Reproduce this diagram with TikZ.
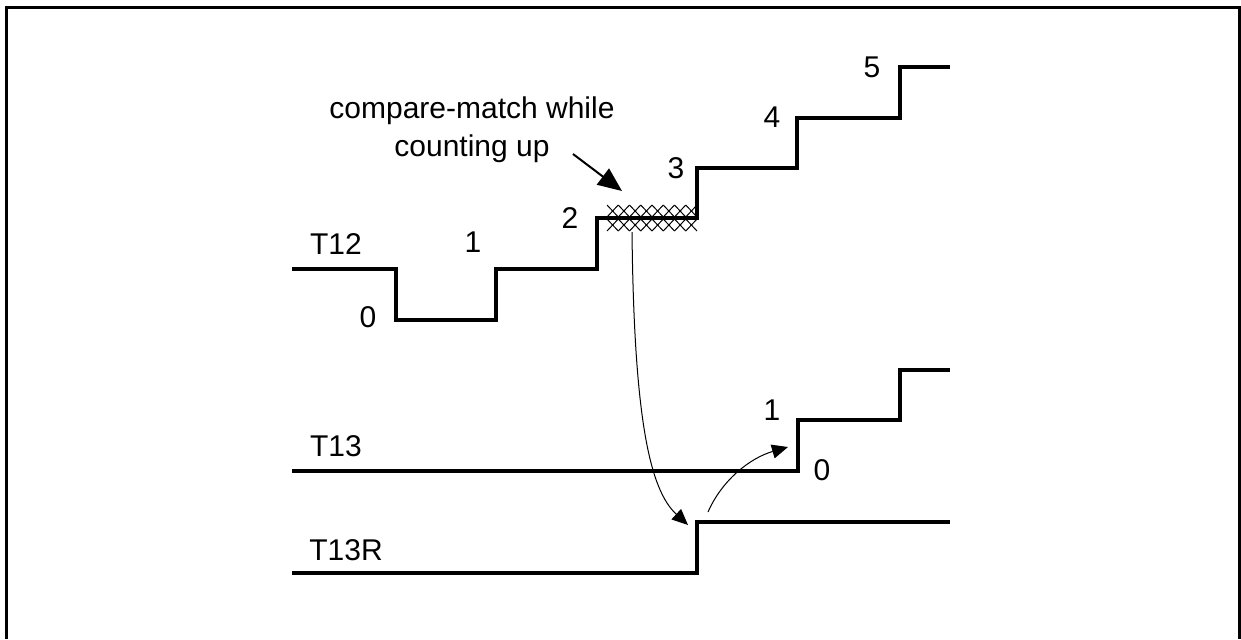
\documentclass[tikz,border=0pt]{standalone}
\usepackage{fontspec}
\setmainfont{Liberation Sans}
\usetikzlibrary{arrows.meta}
\begin{document}
\begin{tikzpicture}[x=0.5pt,y=-0.5pt,
  frame/.style={line width=1.5pt},
  wave/.style={line width=2pt,line join=miter},
  thin/.style={line width=0.5pt},
  lbl/.style={font=\fontsize{15}{19}\selectfont,inner sep=0pt},
  tri/.style={-{Triangle[length=8pt,width=7pt]}}]
\useasboundingbox (0,0) rectangle (1241,639);
% frame
\draw[frame] (6,639) -- (6,7) -- (1239,7) -- (1239,639);
% T12 waveform
\draw[wave] (292,269) -- (396,269) -- (396,320) -- (496,320) -- (496,269)
  -- (597,269) -- (597,218) -- (697,218) -- (697,168) -- (797,168)
  -- (797,118) -- (900,118) -- (900,67) -- (950,67);
% hatch
\foreach \r in {205,219}{
  \foreach \i in {0,...,7}{
    \draw[thin] ({607+\i*11.25},\r) -- ({607+(\i+1)*11.25},{\r+12});
    \draw[thin] ({607+\i*11.25},{\r+12}) -- ({607+(\i+1)*11.25},\r);
  }
}
% T13 waveform
\draw[wave] (292,471) -- (798,471) -- (798,420) -- (900,420) -- (900,370) -- (950,370);
% T13R waveform
\draw[wave] (292,573) -- (697,573) -- (697,522) -- (950,522);
% labels
\node[lbl] (t12) at (336,244) {T12};
\node[lbl] (a0) at (368,317) {0};
\node[lbl] (a1) at (473,242) {1};
\node[lbl] (a2) at (570,218) {2};
\node[lbl] (a3) at (676,168) {3};
\node[lbl] (a4) at (772,117) {4};
\node[lbl] (a5) at (872,67) {5};
\node[lbl] (t13) at (336,446) {T13};
\node[lbl] (b1) at (772,410) {1};
\node[lbl] (b0) at (822,470) {0};
\node[lbl] (t13r) at (346,550) {T13R};
\node[lbl,align=center] (call) at (472,130) {compare-match while\\counting up};
% arrows
\coordinate (cs) at (573,154);
\coordinate (ce) at (622,191);
\draw[line width=1pt,-{Triangle[length=12pt,width=10pt]}] (cs) -- (ce);
\coordinate (m1) at (632,232);
\coordinate (m2) at (688,525);
\draw[thin,tri] (m1) .. controls (634,420) and (650,490) .. (m2);
\coordinate (n1) at (708,512);
\coordinate (n2) at (788,447);
\draw[thin,tri] (n1) .. controls (722,480) and (750,458) .. (n2);
\end{tikzpicture}
\end{document}
